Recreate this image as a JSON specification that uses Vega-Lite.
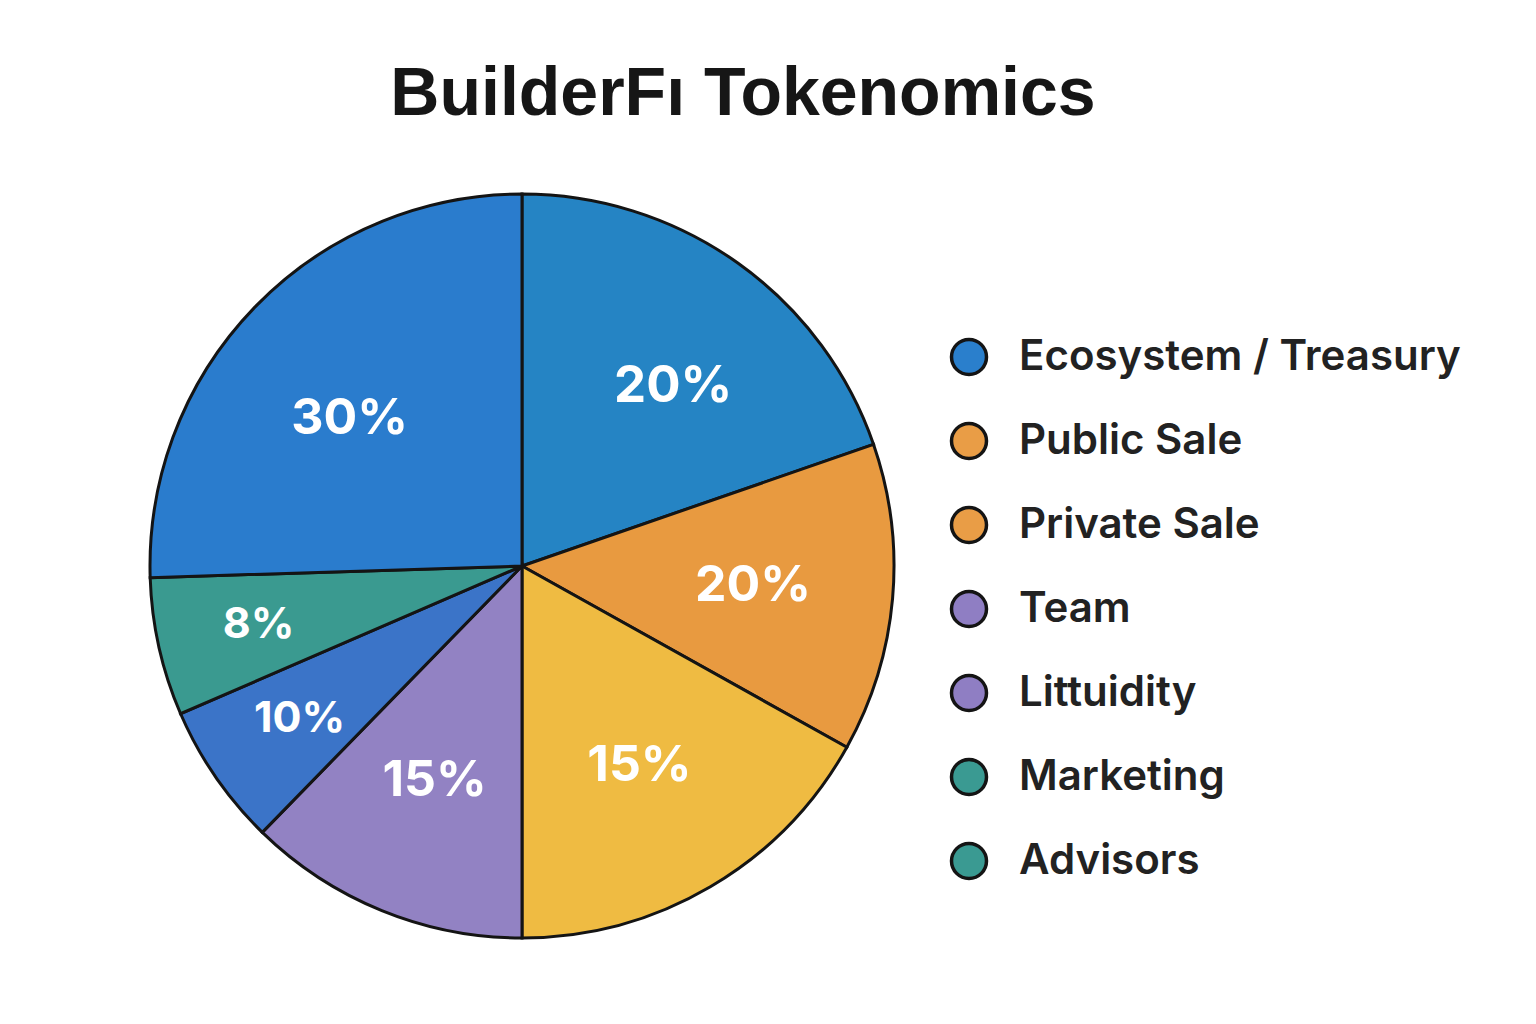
{
  "$schema": "https://vega.github.io/schema/vega-lite/v6.json",
  "width": 744,
  "height": 744,
  "autosize": {"type": "none"},
  "padding": {"left": 150, "top": 194, "right": 642, "bottom": 86},
  "background": "white",
  "title": {
    "text": "BuilderFı Tokenomics",
    "font": "Liberation Sans",
    "fontWeight": "bold",
    "fontSize": 68,
    "color": "#161616",
    "anchor": "middle",
    "frame": "group",
    "dx": 221,
    "offset": 59
  },
  "datasets": {
    "slices": [
      {"segment": "A", "rank": 1, "share": 19.7, "label": "20%"},
      {"segment": "B", "rank": 2, "share": 13.4, "label": "20%"},
      {"segment": "C", "rank": 3, "share": 16.9, "label": "15%"},
      {"segment": "D", "rank": 4, "share": 12.3, "label": "15%"},
      {"segment": "E", "rank": 5, "share": 6.2, "label": "10%"},
      {"segment": "F", "rank": 6, "share": 6.0, "label": "8%"},
      {"segment": "G", "rank": 7, "share": 25.5, "label": "30%"}
    ],
    "legend": [
      {"name": "Ecosystem / Treasury"},
      {"name": "Public Sale"},
      {"name": "Private Sale"},
      {"name": "Team"},
      {"name": "Littuidity"},
      {"name": "Marketing"},
      {"name": "Advisors"}
    ]
  },
  "layer": [
    {
      "data": {"name": "slices"},
      "mark": {"type": "arc", "stroke": "#141414", "strokeWidth": 3},
      "encoding": {
        "theta": {"field": "share", "type": "quantitative", "stack": true},
        "order": {"field": "rank", "type": "quantitative"},
        "fill": {
          "field": "segment",
          "type": "nominal",
          "scale": {
            "domain": ["A", "B", "C", "D", "E", "F", "G"],
            "range": ["#2584c4", "#e89a40", "#efbb42", "#9282c3", "#3b74c8", "#3a9a90", "#2a7ccd"]
          },
          "legend": null
        }
      }
    },
    {
      "data": {"name": "slices"},
      "mark": {"type": "text", "radius": 232, "font": "Inter", "fontWeight": "bold", "fontSize": 50, "fill": "white", "align": "center", "baseline": "middle"},
      "encoding": {
        "theta": {"field": "share", "type": "quantitative", "stack": true},
        "order": {"field": "rank", "type": "quantitative"},
        "detail": {"field": "segment", "type": "nominal"},
        "text": {"condition": {"test": "indexof(['B','C','D'], datum.segment) >= 0", "field": "label", "type": "nominal"}, "value": ""}
      }
    },
    {
      "data": {"name": "slices"},
      "mark": {"type": "text", "radius": 240, "dx": 12, "dy": 16, "font": "Inter", "fontWeight": "bold", "fontSize": 51, "fill": "white", "align": "center", "baseline": "middle"},
      "encoding": {
        "theta": {"field": "share", "type": "quantitative", "stack": true},
        "order": {"field": "rank", "type": "quantitative"},
        "detail": {"field": "segment", "type": "nominal"},
        "text": {"condition": {"test": "datum.segment === 'A'", "field": "label", "type": "nominal"}, "value": ""}
      }
    },
    {
      "data": {"name": "slices"},
      "mark": {"type": "text", "radius": 240, "dy": 20, "font": "Inter", "fontWeight": "bold", "fontSize": 50, "fill": "white", "align": "center", "baseline": "middle"},
      "encoding": {
        "theta": {"field": "share", "type": "quantitative", "stack": true},
        "order": {"field": "rank", "type": "quantitative"},
        "detail": {"field": "segment", "type": "nominal"},
        "text": {"condition": {"test": "datum.segment === 'G'", "field": "label", "type": "nominal"}, "value": ""}
      }
    },
    {
      "data": {"name": "slices"},
      "mark": {"type": "text", "radius": 270, "font": "Inter", "fontWeight": "bold", "fontSize": 43, "fill": "white", "align": "center", "baseline": "middle"},
      "encoding": {
        "theta": {"field": "share", "type": "quantitative", "stack": true},
        "order": {"field": "rank", "type": "quantitative"},
        "detail": {"field": "segment", "type": "nominal"},
        "text": {"condition": {"test": "indexof(['E','F'], datum.segment) >= 0", "field": "label", "type": "nominal"}, "value": ""}
      }
    },
    {
      "data": {"name": "legend"},
      "mark": {"type": "point", "filled": true, "opacity": 0},
      "encoding": {
        "color": {
          "field": "name",
          "type": "nominal",
          "scale": {
            "domain": ["Ecosystem / Treasury", "Public Sale", "Private Sale", "Team", "Littuidity", "Marketing", "Advisors"],
            "range": ["#2a7fcc", "#e99d46", "#e99d46", "#8f7ec3", "#8f7ec3", "#3a9a92", "#3a9a92"]
          },
          "legend": {
            "title": null,
            "orient": "none",
            "legendX": 798,
            "legendY": 142,
            "padding": 0,
            "symbolType": "circle",
            "symbolSize": 1225,
            "symbolOpacity": 1,
            "symbolStrokeColor": "#141414",
            "symbolStrokeWidth": 3.5,
            "labelFont": "Inter",
            "labelFontWeight": 600,
            "labelFontSize": 42,
            "labelColor": "#222222",
            "labelOffset": 29,
            "labelLimit": 600,
            "rowPadding": 34
          }
        }
      }
    }
  ],
  "config": {"view": {"stroke": null}}
}
